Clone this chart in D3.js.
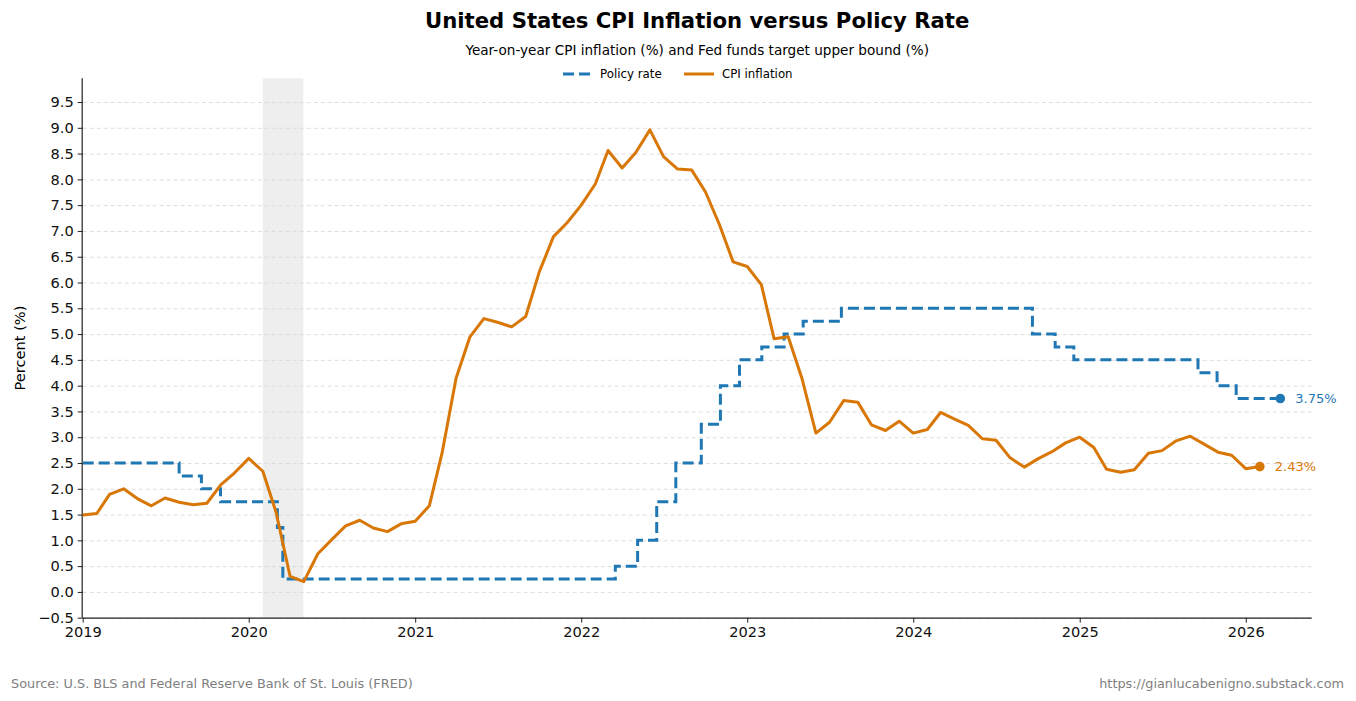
<!DOCTYPE html>
<html>
<head>
<meta charset="utf-8">
<script src="https://cdn.jsdelivr.net/npm/d3@7"></script>
<style>
  body { margin: 0; background: #fff; }
  svg { font-family: 'DejaVu Sans', sans-serif; display: block; }
  .grid line { stroke: #d6d6d6; stroke-dasharray: 4,3; stroke-width: 0.8; }
  .grid path { display: none; }
</style>
</head>
<body>
<svg></svg>
<script>
const cpiMonths = [
  '2019-01','2019-02','2019-03','2019-04','2019-05','2019-06','2019-07','2019-08','2019-09','2019-10','2019-11','2019-12',
  '2020-01','2020-02','2020-03','2020-04','2020-05','2020-06','2020-07','2020-08','2020-09','2020-10','2020-11','2020-12',
  '2021-01','2021-02','2021-03','2021-04','2021-05','2021-06','2021-07','2021-08','2021-09','2021-10','2021-11','2021-12',
  '2022-01','2022-02','2022-03','2022-04','2022-05','2022-06','2022-07','2022-08','2022-09','2022-10','2022-11','2022-12',
  '2023-01','2023-02','2023-03','2023-04','2023-05','2023-06','2023-07','2023-08','2023-09','2023-10','2023-11','2023-12',
  '2024-01','2024-02','2024-03','2024-04','2024-05','2024-06','2024-07','2024-08','2024-09','2024-10','2024-11','2024-12',
  '2025-01','2025-02','2025-03','2025-04','2025-05','2025-06','2025-07','2025-08','2025-09','2025-11','2025-12',
  '2026-01','2026-02'
];
const cpiValues = [
  1.49, 1.52, 1.89, 2.00, 1.81, 1.67, 1.82, 1.74, 1.69, 1.72, 2.08, 2.31,
  2.59, 2.34, 1.55, 0.30, 0.20, 0.74, 1.01, 1.28, 1.39, 1.24, 1.17, 1.32,
  1.37, 1.67, 2.69, 4.15, 4.94, 5.30, 5.23, 5.14, 5.34, 6.21, 6.89, 7.16,
  7.50, 7.91, 8.56, 8.22, 8.52, 8.96, 8.44, 8.20, 8.18, 7.76, 7.12, 6.40,
  6.31, 5.96, 4.91, 4.95, 4.15, 3.08, 3.29, 3.71, 3.68, 3.24, 3.13, 3.31,
  3.08, 3.15, 3.48, 3.35, 3.23, 2.97, 2.94, 2.60, 2.42, 2.58, 2.72, 2.89,
  3.00, 2.80, 2.38, 2.32, 2.37, 2.69, 2.74, 2.93, 3.02, 2.71, 2.65,
  2.39, 2.43
];

// dates the target upper bound changed (last entry = latest observation)
const rateDates = [
  '2019-01-01','2019-08-01','2019-09-19','2019-10-31','2020-03-04','2020-03-16',
  '2022-03-17','2022-05-05','2022-06-16','2022-07-28','2022-09-22','2022-11-03','2022-12-15',
  '2023-02-02','2023-03-23','2023-05-04','2023-07-27',
  '2024-09-19','2024-11-08','2024-12-19',
  '2025-09-18','2025-10-30','2025-12-11','2026-03-18'
];
const rateValues = [
  2.50, 2.25, 2.00, 1.75, 1.25, 0.25,
  0.50, 1.00, 1.75, 2.50, 3.25, 4.00, 4.50,
  4.75, 5.00, 5.25, 5.50,
  5.00, 4.75, 4.50,
  4.25, 4.00, 3.75, 3.75
];

const recession = ['2020-02-01', '2020-04-30'];
const xTickYears = [2019, 2020, 2021, 2022, 2023, 2024, 2025, 2026];
const yTicks = d3.range(-0.5, 9.51, 0.5);

const parseMonth = d3.timeParse('%Y-%m');
const parseDay = d3.timeParse('%Y-%m-%d');

const cpi = cpiMonths.map((m, i) => ({date: parseMonth(m), value: cpiValues[i]}));
const rate = rateDates.map((d, i) => ({date: parseDay(d), value: rateValues[i]}));

const W = 1356, H = 701;
const pL = 82.7, pR = 1311.7, pT = 78.3, pB = 617.7;

const blue = '#1f77b4';
const orange = '#d97706';

const svg = d3.select('svg')
  .attr('width', W)
  .attr('height', H);

const x = d3.scaleTime()
  .domain([new Date(2019, 0, 1), new Date(2026, 4, 26)])
  .range([pL, pR]);

const y = d3.scaleLinear()
  .domain([-0.5, 9.96])
  .range([pB, pT]);

// recession shading
svg.append('rect')
  .attr('x', x(parseDay(recession[0])))
  .attr('y', pT)
  .attr('width', x(parseDay(recession[1])) - x(parseDay(recession[0])))
  .attr('height', pB - pT)
  .attr('fill', '#eeeeee');

// horizontal grid
svg.append('g')
  .attr('class', 'grid')
  .attr('transform', `translate(${pL},0)`)
  .call(d3.axisLeft(y).tickValues(yTicks).tickSize(-(pR - pL)).tickFormat(''));

// axes
const yAxis = svg.append('g')
  .attr('transform', `translate(${pL},0)`)
  .call(d3.axisLeft(y).tickValues(yTicks).tickFormat(d3.format('.1f')).tickSize(5).tickPadding(4));

const xAxis = svg.append('g')
  .attr('transform', `translate(0,${pB})`)
  .call(d3.axisBottom(x).tickValues(xTickYears.map(yr => new Date(yr, 0, 1))).tickFormat(d3.timeFormat('%Y')).tickSize(5).tickPadding(4));

xAxis.select('.domain').attr('d', `M${pL},0.5H${pR}`);
yAxis.select('.domain').attr('d', `M-0.5,${pT}V${pB}`);

[xAxis, yAxis].forEach(a => {
  a.select('.domain').attr('stroke', '#222').attr('stroke-width', 1.2);
  a.selectAll('.tick line').attr('stroke', '#222').attr('stroke-width', 1);
  a.selectAll('.tick text').attr('fill', '#111').attr('font-size', 14.6).attr('font-family', 'DejaVu Sans');
});

// lines
svg.append('path')
  .datum(rate)
  .attr('fill', 'none')
  .attr('stroke', blue)
  .attr('stroke-width', 3)
  .attr('stroke-dasharray', '11,5')
  .attr('d', d3.line().x(d => x(d.date)).y(d => y(d.value)).curve(d3.curveStepAfter));

svg.append('path')
  .datum(cpi)
  .attr('fill', 'none')
  .attr('stroke', orange)
  .attr('stroke-width', 3)
  .attr('stroke-linejoin', 'round')
  .attr('d', d3.line().x(d => x(d.date)).y(d => y(d.value)));

// end markers and labels
[[rate, blue], [cpi, orange]].forEach(([series, color]) => {
  const last = series[series.length - 1];
  svg.append('circle')
    .attr('cx', x(last.date))
    .attr('cy', y(last.value))
    .attr('r', 4.8)
    .attr('fill', color);
  svg.append('text')
    .attr('x', x(last.date) + 15)
    .attr('y', y(last.value))
    .attr('dy', '0.35em')
    .attr('font-size', 13)
    .attr('fill', color)
    .text(d3.format('.2f')(last.value) + '%');
});

// titles
const cx = (pL + pR) / 2;
svg.append('text')
  .attr('x', cx)
  .attr('y', 28)
  .attr('text-anchor', 'middle')
  .attr('font-size', 21.2)
  .attr('font-weight', 'bold')
  .text('United States CPI Inflation versus Policy Rate');

svg.append('text')
  .attr('x', cx)
  .attr('y', 55)
  .attr('text-anchor', 'middle')
  .attr('font-size', 13.6)
  .text('Year-on-year CPI inflation (%) and Fed funds target upper bound (%)');

// legend
const legend = svg.append('g').attr('transform', 'translate(0,74)');
legend.append('line')
  .attr('x1', 563).attr('x2', 590).attr('y1', 0).attr('y2', 0)
  .attr('stroke', blue).attr('stroke-width', 3).attr('stroke-dasharray', '11,5');
legend.append('text')
  .attr('x', 600).attr('y', 0).attr('dy', '0.35em')
  .attr('font-size', 11.8)
  .text('Policy rate');
legend.append('line')
  .attr('x1', 684).attr('x2', 714).attr('y1', 0).attr('y2', 0)
  .attr('stroke', orange).attr('stroke-width', 3);
legend.append('text')
  .attr('x', 722).attr('y', 0).attr('dy', '0.35em')
  .attr('font-size', 11.8)
  .text('CPI inflation');

// y label
svg.append('text')
  .attr('transform', `translate(25,${(pT + pB) / 2}) rotate(-90)`)
  .attr('text-anchor', 'middle')
  .attr('font-size', 14.6)
  .text('Percent (%)');

// footer
svg.append('text')
  .attr('x', 11)
  .attr('y', 688)
  .attr('font-size', 12.85)
  .attr('fill', '#808080')
  .text('Source: U.S. BLS and Federal Reserve Bank of St. Louis (FRED)');

svg.append('text')
  .attr('x', 1344)
  .attr('y', 688)
  .attr('text-anchor', 'end')
  .attr('font-size', 12.85)
  .attr('fill', '#808080')
  .text('https://gianlucabenigno.substack.com');
</script>
</body>
</html>
